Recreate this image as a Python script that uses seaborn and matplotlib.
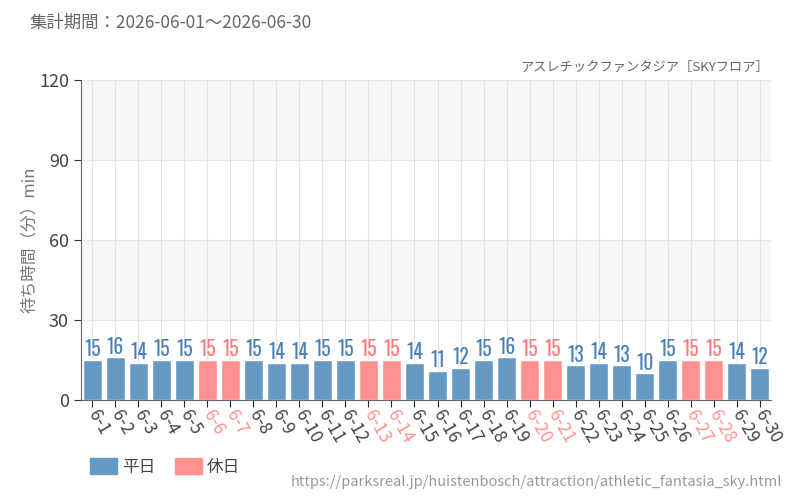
import pandas as pd
import matplotlib.pyplot as plt
import seaborn as sns
from matplotlib.patches import Patch

# data
days = ['6-%d' % d for d in range(1, 31)]
waits = [15, 16, 14, 15, 15, 15, 15, 15, 14, 14,
         15, 15, 15, 15, 14, 11, 12, 15, 16, 15,
         15, 13, 14, 13, 10, 15, 15, 15, 14, 12]
holidays = ['6-6', '6-7', '6-13', '6-14', '6-20', '6-21', '6-27', '6-28']

kinds = ['休日' if d in holidays else '平日' for d in days]
df = pd.DataFrame({'day': days, 'wait': waits, 'kind': kinds})

blue = '#6699c3'
pink = '#ff9191'
blue_txt = '#4a80b4'
pink_txt = '#ff7b7b'

sns.set_style('white')
plt.rcParams['font.family'] = ['Noto Sans CJK JP', 'DejaVu Sans']

fig = plt.figure(figsize=(8, 5), dpi=100)
ax = fig.add_axes([0.101, 0.2, 0.863, 0.64])

# background bands
for lo in (30, 90):
    ax.axhspan(lo, lo + 30, color='#f7f7f7', zorder=0)
for y in (30, 60, 90, 120):
    ax.axhline(y, color='#e6e6e6', lw=0.8, zorder=0.5)
for i in range(len(days)):
    ax.axvline(i, color='#e3e3e3', lw=0.8, zorder=0.5)

sns.barplot(data=df, x='day', y='wait', hue='kind', palette={'平日': blue, '休日': pink},
            dodge=False, width=0.8, legend=False, ax=ax, zorder=2, saturation=1)

# labels above bars
for i, (v, k) in enumerate(zip(waits, kinds)):
    ax.text(i, v + 0.3, str(v), ha='center', va='bottom', fontsize=14,
            color=pink_txt if k == '休日' else blue_txt,
            family=['Oswald', 'DejaVu Sans'])

ax.set_xlim(-0.5, len(days) - 0.5)
ax.set_ylim(0, 120)
ax.set_yticks([0, 30, 60, 90, 120])
ax.set_xlabel('')
ax.set_ylabel('待ち時間（分）min', color='#777777', fontsize=12)
ax.yaxis.set_label_coords(-0.062, 0.5)
ax.tick_params(axis='y', labelsize=13, colors='#333333', length=5, direction='out', left=True)
ax.tick_params(axis='x', labelsize=12.5, length=5, direction='out', bottom=True, pad=3)
for lab in ax.get_yticklabels():
    lab.set_color('#444444')
for lab, k in zip(ax.get_xticklabels(), kinds):
    lab.set_rotation(-60)
    lab.set_ha('left')
    lab.set_va('center')
    lab.set_rotation_mode('anchor')
    lab.set_color(pink if k == '休日' else '#444444')

for s in ('top', 'right'):
    ax.spines[s].set_visible(False)
ax.spines['left'].set_color('#666666')
ax.spines['bottom'].set_color('#666666')

fig.text(0.037, 0.955, '集計期間：2026-06-01～2026-06-30', fontsize=12.5, color='#666666',
         va='center')
fig.text(0.962, 0.865, 'アスレチックファンタジア［SKYフロア］', fontsize=9.5, color='#666666',
         ha='right', va='center')
fig.text(0.978, 0.036, 'https://parksreal.jp/huistenbosch/attraction/athletic_fantasia_sky.html',
         fontsize=10.5, color='#999999', ha='right', va='center')

handles = [Patch(color=blue, label='平日'), Patch(color=pink, label='休日')]
fig.legend(handles=handles, loc='center left', bbox_to_anchor=(0.113, 0.066), ncol=2,
           frameon=False, fontsize=12, handlelength=1.6, handleheight=1.1,
           handletextpad=0.3, columnspacing=1.2, labelcolor='#444444',
           borderaxespad=0, borderpad=0)

fig.savefig('out.png', dpi=100)
